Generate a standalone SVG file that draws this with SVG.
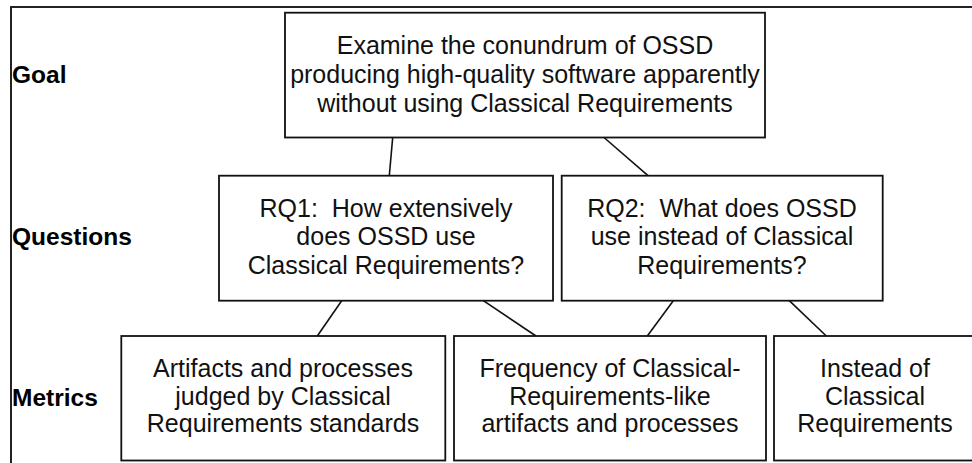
<svg xmlns="http://www.w3.org/2000/svg" width="972" height="463" viewBox="0 0 972 463">
<style>
.frame{fill:none;stroke:#222;stroke-width:2}
.box{fill:#fff;stroke:#111;stroke-width:1.8}
.edge{fill:none;stroke:#111;stroke-width:1.6}
.t{font-family:"Liberation Sans",Arial,Helvetica,sans-serif;font-size:25px;fill:#111;text-anchor:middle;white-space:pre}
.lbl{font-family:"Liberation Sans",Arial,Helvetica,sans-serif;font-size:24.5px;font-weight:bold;fill:#000}
</style>
<rect width="972" height="463" fill="#fff"/>
<rect class="frame" x="11" y="7" width="990" height="490"/>
<g id="labels">
<text class="lbl" x="12" y="83">Goal</text>
<text class="lbl" x="12" y="245">Questions</text>
<text class="lbl" x="12" y="406">Metrics</text>
</g>
<g id="connectors">
<line class="edge" x1="392.7" y1="137.5" x2="389.3" y2="175.7"/>
<line class="edge" x1="604" y1="137.5" x2="648" y2="175.7"/>
<line class="edge" x1="341.7" y1="300.7" x2="317.3" y2="336"/>
<line class="edge" x1="483.3" y1="300.7" x2="536" y2="336"/>
<line class="edge" x1="673.3" y1="300.7" x2="647.3" y2="336"/>
<line class="edge" x1="789.3" y1="300.7" x2="826.3" y2="336"/>
</g>
<g id="goal">
<rect class="box" x="285" y="12.7" width="480" height="124.8"/>
<text class="t" x="525" y="54">Examine the conundrum of OSSD</text>
<text class="t" x="525" y="83">producing high-quality software apparently</text>
<text class="t" x="525" y="111.5">without using Classical Requirements</text>
</g>
<g id="rq1">
<rect class="box" x="219" y="175.7" width="334" height="125"/>
<text class="t" x="386" y="216.5">RQ1:  How extensively</text>
<text class="t" x="386" y="245">does OSSD use</text>
<text class="t" x="386" y="273.5">Classical Requirements?</text>
</g>
<g id="rq2">
<rect class="box" x="561.7" y="175.7" width="321" height="125"/>
<text class="t" x="722" y="216.5">RQ2:  What does OSSD</text>
<text class="t" x="722" y="245">use instead of Classical</text>
<text class="t" x="722" y="273.5">Requirements?</text>
</g>
<g id="m1">
<rect class="box" x="121.3" y="336" width="324" height="124.5"/>
<text class="t" x="283" y="377">Artifacts and processes</text>
<text class="t" x="283" y="404.5">judged by Classical</text>
<text class="t" x="283" y="432">Requirements standards</text>
</g>
<g id="m2">
<rect class="box" x="454" y="336" width="312" height="124.5"/>
<text class="t" x="610" y="377">Frequency of Classical-</text>
<text class="t" x="610" y="404.5">Requirements-like</text>
<text class="t" x="610" y="432">artifacts and processes</text>
</g>
<g id="m3">
<rect class="box" x="774" y="336" width="202" height="124.5"/>
<text class="t" x="875" y="377">Instead of</text>
<text class="t" x="875" y="404.5">Classical</text>
<text class="t" x="875" y="432">Requirements</text>
</g>
</svg>
